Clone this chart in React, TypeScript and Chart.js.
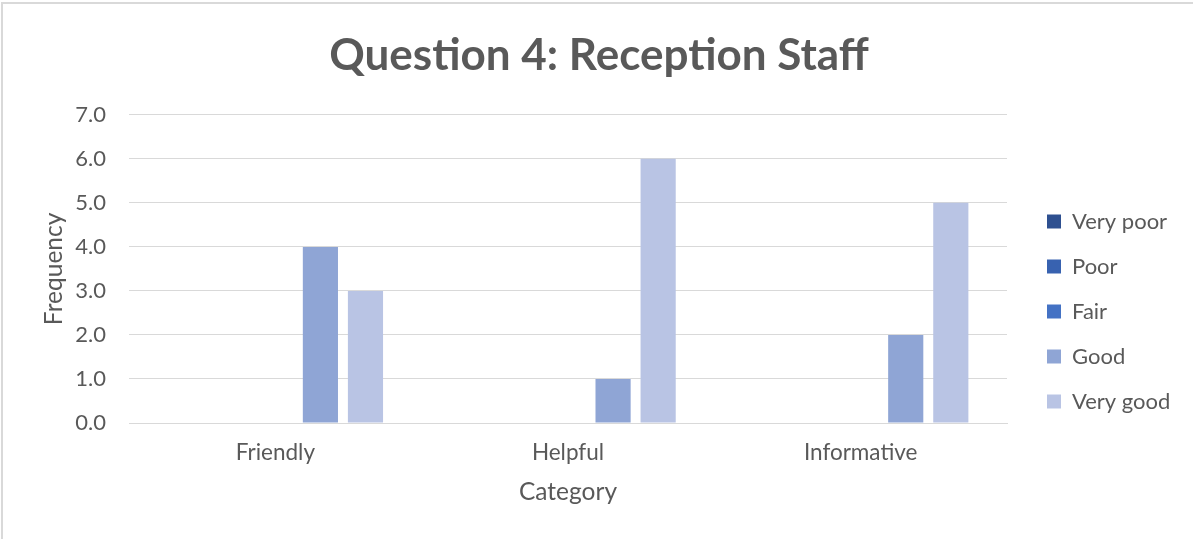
import React, { useEffect, useRef } from "react";
import { Chart, registerables } from "chart.js";

Chart.register(...registerables);

const categories = ["Friendly", "Helpful", "Informative"];
const seriesNames = ["Very poor", "Poor", "Fair", "Good", "Very good"];
const veryPoor = [0, 0, 0];
const poor = [0, 0, 0];
const fair = [0, 0, 0];
const good = [4, 1, 2];
const veryGood = [3, 6, 5];
const seriesColors = ["#2E5090", "#3862B0", "#4472C4", "#8FA5D5", "#B9C4E4"];
const yTicks = [0, 1, 2, 3, 4, 5, 6, 7];

const FONT = "Lato, 'Open Sans', sans-serif";
const TEXT = "#595959";
const GRID = "#d9d9d9";

const W = 1193;
const H = 539;
const PLOT_LEFT = 129;
const PLOT_RIGHT = 1007;
const PLOT_BOTTOM = 423;
const PAD = { top: 10, left: 30, right: 25, bottom: 18 };

const legendPlacement = {
  id: "legendPlacement",
  afterInit(chart: any) {
    const lg = chart.legend;
    if (!lg) return;
    const orig = lg.fit;
    lg.fit = function () {
      orig.call(this);
      this.width = W - PLOT_RIGHT - PAD.right;
    };
  },
  afterLayout(chart: any) {
    const lg = chart.legend;
    if (!lg) return;
    lg.left += 17;
    lg.right += 17;
    lg.top += 46;
    lg.bottom += 46;
  },
};

export default function App() {
  const ref = useRef<HTMLCanvasElement | null>(null);

  useEffect(() => {
    if (!ref.current) return;
    const values = [veryPoor, poor, fair, good, veryGood];
    const chart = new Chart(ref.current, {
      type: "bar",
      data: {
        labels: categories,
        datasets: seriesNames.map((name, i) => ({
          label: name,
          data: values[i],
          backgroundColor: seriesColors[i],
          borderWidth: 0,
          categoryPercentage: 0.77,
          barPercentage: 0.78,
        })),
      },
      plugins: [legendPlacement],
      options: {
        animation: false,
        responsive: false,
        maintainAspectRatio: false,
        layout: { padding: PAD },
        plugins: {
          title: {
            display: true,
            text: "Question 4: Reception Staff",
            color: TEXT,
            font: { family: FONT, size: 44, weight: "bold" },
            padding: { top: 19, bottom: 33 },
          },
          legend: {
            position: "right",
            align: "center",
            labels: {
              color: TEXT,
              font: { family: FONT, size: 22 },
              boxWidth: 14,
              boxHeight: 14,
              padding: 23,
            },
          },
          tooltip: { enabled: false },
        },
        scales: {
          x: {
            afterFit: (s: any) => {
              s.height = H - PAD.bottom - PLOT_BOTTOM;
            },
            grid: { display: false, drawTicks: false },
            border: { color: GRID, width: 1 },
            ticks: { color: TEXT, font: { family: FONT, size: 22.5 }, padding: 16 },
            title: {
              display: true,
              text: "Category",
              color: TEXT,
              font: { family: FONT, size: 24.5 },
              padding: { top: 0, bottom: 14 },
            },
          },
          y: {
            min: 0,
            max: 7,
            afterFit: (s: any) => {
              s.width = PLOT_LEFT - PAD.left;
            },
            afterBuildTicks: (scale: any) => {
              scale.ticks = yTicks.map((v) => ({ value: v }));
            },
            grid: { color: GRID, drawTicks: false },
            border: { display: false },
            ticks: {
              color: TEXT,
              font: { family: FONT, size: 22 },
              padding: 23,
              callback: (v: any) => Number(v).toFixed(1),
            },
            title: {
              display: true,
              text: "Frequency",
              color: TEXT,
              font: { family: FONT, size: 24.5 },
              padding: { top: 9, bottom: 0 },
            },
          },
        },
      },
    });
    return () => chart.destroy();
  }, []);

  return (
    <div style={{ position: "fixed", left: 0, top: 0, width: W, height: H, background: "#fff", overflow: "hidden" }}>
      <canvas ref={ref} width={W} height={H} style={{ position: "absolute", left: 0, top: 0 }} />
      <div
        style={{
          position: "absolute",
          left: 1,
          top: 2,
          width: 1300,
          height: 700,
          borderLeft: "2px solid #d9d9d9",
          borderTop: "2px solid #d9d9d9",
          pointerEvents: "none",
        }}
      />
    </div>
  );
}
